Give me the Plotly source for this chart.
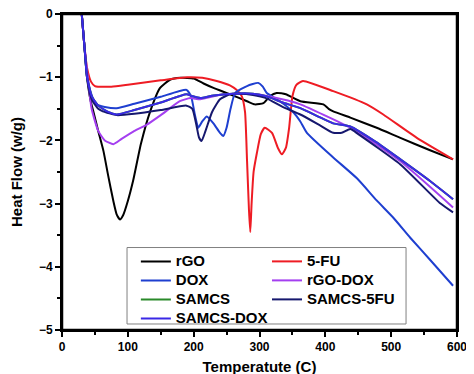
import plotly.graph_objects as go

# ---- data ----
rgo_x = [30, 34, 38, 43, 48, 55, 63, 70, 78, 83, 88, 93, 100, 108, 120, 134, 149, 164, 180, 200, 215, 230, 255, 281, 293, 306, 316, 326, 340, 362, 397, 405, 412, 438, 478, 514, 560, 594]
rgo_y = [0, -0.5, -1.0, -1.35, -1.56, -1.85, -2.17, -2.55, -2.96, -3.17, -3.25, -3.18, -2.96, -2.64, -2.05, -1.54, -1.17, -1.04, -1.01, -1.02, -1.1, -1.17, -1.27, -1.38, -1.43, -1.41, -1.3, -1.25, -1.27, -1.38, -1.43, -1.5, -1.54, -1.64, -1.8, -1.96, -2.16, -2.3]

fu_x = [30, 34, 38, 44, 50, 75, 100, 150, 190, 213, 235, 255, 265, 273, 278, 281, 284, 286, 288, 291, 296, 302, 308, 319, 328, 334, 340, 345, 350, 356, 366, 412, 463, 488, 539, 594]
fu_y = [0, -0.5, -0.85, -1.07, -1.14, -1.15, -1.12, -1.05, -1.0, -1.01, -1.06, -1.13, -1.2, -1.3, -1.55, -2.3, -3.1, -3.45, -3.0, -2.5, -2.2, -1.9, -1.8, -1.88, -2.12, -2.22, -2.12, -1.8, -1.3, -1.12, -1.06, -1.22, -1.43, -1.59, -1.96, -2.3]

dox_x = [30, 34, 38, 44, 52, 65, 83, 110, 150, 189, 196, 202, 207, 213, 220, 230, 240, 245, 250, 256, 263, 281, 298, 305, 311, 331, 351, 362, 372, 412, 448, 478, 503, 529, 560, 594]
dox_y = [0, -0.5, -0.95, -1.25, -1.43, -1.47, -1.49, -1.42, -1.31, -1.2, -1.3, -1.6, -1.8, -1.7, -1.62, -1.73, -1.88, -1.93, -1.8, -1.5, -1.25, -1.14, -1.09, -1.15, -1.25, -1.38, -1.55, -1.7, -1.88, -2.27, -2.6, -2.95, -3.22, -3.54, -3.9, -4.3]

rgodox_x = [30, 34, 38, 45, 55, 65, 78, 90, 110, 129, 150, 179, 195, 210, 245, 296, 347, 362, 438, 514, 594]
rgodox_y = [0, -0.5, -0.9, -1.5, -1.85, -2.0, -2.06, -1.98, -1.85, -1.75, -1.6, -1.38, -1.33, -1.35, -1.27, -1.27, -1.38, -1.43, -1.8, -2.33, -3.06]

samcs5fu_x = [30, 34, 38, 45, 55, 62, 83, 110, 150, 189, 198, 204, 208, 212, 218, 228, 240, 255, 270, 290, 310, 335, 362, 390, 412, 425, 438, 450, 514, 575, 594]
samcs5fu_y = [0, -0.5, -1.0, -1.35, -1.5, -1.54, -1.6, -1.58, -1.52, -1.45, -1.5, -1.75, -1.95, -2.01, -1.85, -1.55, -1.35, -1.27, -1.26, -1.28, -1.33, -1.47, -1.59, -1.75, -1.88, -1.88, -1.82, -1.9, -2.38, -3.0, -3.14]

samcsdox_x = [30, 34, 38, 45, 55, 70, 83, 110, 150, 189, 198, 210, 230, 260, 290, 310, 335, 362, 412, 438, 476, 514, 560, 594]
samcsdox_y = [0, -0.5, -1.0, -1.3, -1.45, -1.55, -1.59, -1.52, -1.4, -1.27, -1.3, -1.33, -1.29, -1.26, -1.26, -1.3, -1.4, -1.49, -1.73, -1.78, -2.02, -2.3, -2.65, -2.93]

# SAMCS is hidden beneath SAMCS-DOX in the reference
samcs_x = samcsdox_x
samcs_y = samcsdox_y

# (name, x, y, colour, legend column)
series = [
    ("rGO", rgo_x, rgo_y, "#000000", "legend"),
    ("5-FU", fu_x, fu_y, "#ee1c24", "legend2"),
    ("DOX", dox_x, dox_y, "#1e3fd0", "legend"),
    ("rGO-DOX", rgodox_x, rgodox_y, "#a43ff0", "legend2"),
    ("SAMCS", samcs_x, samcs_y, "#2a8a2a", "legend"),
    ("SAMCS-5FU", samcs5fu_x, samcs5fu_y, "#16186e", "legend2"),
    ("SAMCS-DOX", samcsdox_x, samcsdox_y, "#3a28e6", "legend"),
]

x_ticks = [0, 100, 200, 300, 400, 500, 600]
y_ticks = [0, -1, -2, -3, -4, -5]

fig = go.Figure()
for name, xs, ys, col, lg in series:
    fig.add_trace(go.Scatter(x=xs, y=ys, mode="lines",
                             name='<span style="font-size:15px">' + name + '</span>',
                             legend=lg,
                             line=dict(color=col, width=2, shape="spline", smoothing=0.5)))

font_fam = "Liberation Sans, Arial, sans-serif"
leg_font = dict(family=font_fam, size=12, color="black", weight="bold")
fig.update_layout(
    width=474, height=374,
    margin=dict(l=54, r=25, t=6, b=52, autoexpand=False),
    paper_bgcolor="white", plot_bgcolor="white",
    font=dict(family=font_fam, color="black"),
    showlegend=True,
    legend=dict(x=0.187, y=0.263, xanchor="left", yanchor="top",
                borderwidth=0, bgcolor="rgba(0,0,0,0)", font=leg_font,
                tracegroupgap=0, traceorder="normal"),
    legend2=dict(x=0.519, y=0.263, xanchor="left", yanchor="top",
                 borderwidth=0, bgcolor="rgba(0,0,0,0)", font=leg_font,
                 tracegroupgap=0, traceorder="normal"),
    shapes=[
        dict(type="rect", xref="paper", yref="paper",
             x0=0.1646, x1=0.871, y0=0.019, y1=0.261,
             line=dict(color="#808080", width=1), fillcolor="white", layer="below"),
        # full plot frame drawn as a box
        dict(type="rect", xref="paper", yref="paper", x0=0, x1=1, y0=0, y1=1,
             line=dict(color="black", width=2.5), fillcolor="rgba(0,0,0,0)", layer="above"),
    ],
    xaxis=dict(
        range=[0, 600], tickvals=x_ticks, ticks="outside", ticklen=5, tickwidth=2,
        tickcolor="black", showline=True, linewidth=2, linecolor="black", mirror=True,
        showgrid=False, zeroline=False, automargin=False, ticklabeloverflow="allow",
        tickfont=dict(size=12, weight="bold"),
        minor=dict(dtick=50, ticks="outside", ticklen=3, tickwidth=2, tickcolor="black"),
        title=dict(text="Temperatute (C)", font=dict(size=15, weight="bold"), standoff=8),
    ),
    yaxis=dict(
        range=[-5, 0], tickvals=y_ticks, ticks="outside", ticklen=5, tickwidth=2,
        tickcolor="black", showline=True, linewidth=2, linecolor="black", mirror=True,
        showgrid=False, zeroline=False, automargin=False, ticklabeloverflow="allow",
        tickfont=dict(size=12, weight="bold"),
        minor=dict(dtick=0.5, ticks="outside", ticklen=3, tickwidth=2, tickcolor="black"),
        title=dict(text="Heat Flow (w/g)", font=dict(size=15, weight="bold"), standoff=22),
    ),
)
fig.write_html("out.html")
